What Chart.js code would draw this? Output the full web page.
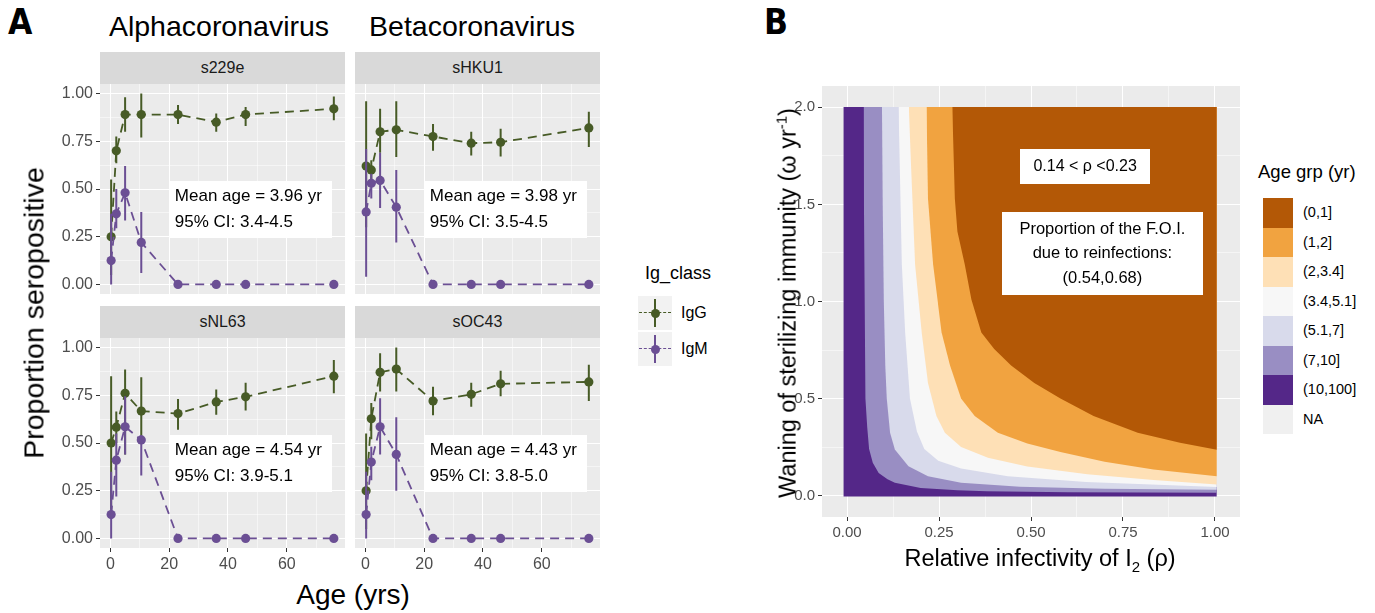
<!DOCTYPE html>
<html>
<head>
<meta charset="utf-8">
<script src="https://cdn.jsdelivr.net/npm/chart.js@4.4.1/dist/chart.umd.min.js"></script>
<style>
  body { margin: 0; width: 1375px; height: 613px; background: #fff; position: relative; overflow: hidden;
         font-family: "Liberation Sans", Arial, sans-serif; color: #000; }
  canvas { position: absolute; }
  .t { position: absolute; white-space: nowrap; }
  .mid { transform: translate(-50%, -50%); }
  .rot { transform: translate(-50%, -50%) rotate(-90deg); }
  .tag { font-family: "Liberation Sans Narrow", "DejaVu Sans Condensed", sans-serif; font-weight: bold; font-size: 35px; }
  .strip { position: absolute; background: #d9d9d9; color: #1a1a1a; font-size: 16px; text-align: center; }
  .key { position: absolute; background: #f2f2f2; }
</style>
</head>
<body>

<div class="t tag" style="left:8px;top:2px">A</div>
<div class="t tag" style="left:764px;top:2px">B</div>

<div class="t mid" style="left:219px;top:26px;font-size:28.5px">Alphacoronavirus</div>
<div class="t mid" style="left:472px;top:26px;font-size:28.5px">Betacoronavirus</div>

<div class="strip" style="left:100px;top:52px;width:245px;height:32px;line-height:32px">s229e</div>
<div class="strip" style="left:355px;top:52px;width:245px;height:32px;line-height:32px">sHKU1</div>
<div class="strip" style="left:100px;top:306px;width:245px;height:32px;line-height:32px">sNL63</div>
<div class="strip" style="left:355px;top:306px;width:245px;height:32px;line-height:32px">sOC43</div>

<canvas id="f1" width="305" height="210" style="left:40px;top:84px"></canvas>
<canvas id="f2" width="245" height="210" style="left:355px;top:84px"></canvas>
<canvas id="f3" width="305" height="240" style="left:40px;top:338px"></canvas>
<canvas id="f4" width="245" height="240" style="left:355px;top:338px"></canvas>

<div class="t rot" style="left:34px;top:313px;font-size:28.5px">Proportion seropositive</div>
<div class="t mid" style="left:353px;top:595px;font-size:28px">Age (yrs)</div>

<div class="t" style="left:645px;top:263px;font-size:18px">Ig_class</div>
<div id="legA"></div>

<canvas id="heat" width="480" height="461" style="left:760px;top:86px"></canvas>
<div class="t rot" style="left:787px;top:303px;font-size:23.5px">Waning of sterilizing immunity (ω yr<sup style="font-size:15px">-1</sup>)</div>
<div class="t mid" style="left:1040px;top:560px;font-size:23.5px">Relative infectivity of I<sub style="font-size:15px">2</sub> (ρ)</div>

<div class="t" style="left:1258px;top:161px;font-size:18.5px">Age grp (yr)</div>
<div id="legB"></div>

<script>
// ---- panel A data: proportion seropositive by age ----
const ages = [0.25, 2, 5, 10.5, 23, 36, 46, 76];
const ageTicks = [0, 10, 20, 30, 40, 50, 60, 70];
const propTicks = [0, 0.125, 0.25, 0.375, 0.5, 0.625, 0.75, 0.875, 1];

const s229eIgG   = [0.25, 0.70, 0.89, 0.89, 0.89, 0.85, 0.89, 0.92];
const s229eIgGLo = [0.05, 0.635, 0.80, 0.77, 0.84, 0.80, 0.83, 0.86];
const s229eIgGHi = [0.55, 0.775, 0.98, 1.00, 0.94, 0.895, 0.93, 0.985];
const s229eIgM   = [0.125, 0.37, 0.48, 0.22, 0, 0, 0, 0];
const s229eIgMLo = [0.0, 0.295, 0.335, 0.06, 0, 0, 0, 0];
const s229eIgMHi = [0.37, 0.50, 0.62, 0.38, 0, 0, 0, 0];

const sHKU1IgG   = [0.62, 0.60, 0.80, 0.81, 0.775, 0.74, 0.745, 0.82];
const sHKU1IgGLo = [0.30, 0.545, 0.69, 0.667, 0.70, 0.675, 0.67, 0.72];
const sHKU1IgGHi = [0.96, 0.65, 0.92, 0.96, 0.84, 0.80, 0.815, 0.905];
const sHKU1IgM   = [0.38, 0.53, 0.545, 0.405, 0, 0, 0, 0];
const sHKU1IgMLo = [0.04, 0.45, 0.40, 0.22, 0, 0, 0, 0];
const sHKU1IgMHi = [0.71, 0.58, 0.69, 0.60, 0, 0, 0, 0];

const sNL63IgG   = [0.50, 0.583, 0.76, 0.667, 0.654, 0.715, 0.742, 0.85];
const sNL63IgGLo = [0.15, 0.50, 0.44, 0.53, 0.57, 0.648, 0.67, 0.76];
const sNL63IgGHi = [0.85, 0.665, 0.885, 0.845, 0.73, 0.78, 0.815, 0.935];
const sNL63IgM   = [0.125, 0.41, 0.585, 0.516, 0, 0, 0, 0];
const sNL63IgMLo = [0.0, 0.22, 0.44, 0.33, 0, 0, 0, 0];
const sNL63IgMHi = [0.35, 0.55, 0.745, 0.54, 0, 0, 0, 0];

const sOC43IgG   = [0.25, 0.627, 0.87, 0.887, 0.72, 0.755, 0.81, 0.82];
const sOC43IgGLo = [0.05, 0.52, 0.77, 0.77, 0.645, 0.69, 0.745, 0.72];
const sOC43IgGHi = [0.55, 0.71, 0.97, 1.00, 0.795, 0.815, 0.878, 0.91];
const sOC43IgM   = [0.125, 0.40, 0.585, 0.44, 0, 0, 0, 0];
const sOC43IgMLo = [0.0, 0.305, 0.44, 0.25, 0, 0, 0, 0];
const sOC43IgMHi = [0.35, 0.48, 0.735, 0.635, 0, 0, 0, 0];

const meanAge = ['Mean age = 3.96 yr', 'Mean age = 3.98 yr', 'Mean age = 4.54 yr', 'Mean age = 4.43 yr'];
const meanCI  = ['95% CI: 3.4-4.5', '95% CI: 3.5-4.5', '95% CI: 3.9-5.1', '95% CI: 3.8-5.0'];

// ---- panel B data: age-group boundaries over (rho, omega) ----
const rhoTicks = [0, 0.125, 0.25, 0.375, 0.5, 0.625, 0.75, 0.875, 1];
const omegaTicks = [0, 0.25, 0.5, 0.75, 1, 1.25, 1.5, 1.75, 2];
const ageGroups = ['(0,1]', '(1,2]', '(2,3.4]', '(3.4,5.1]', '(5.1,7]', '(7,10]', '(10,100]', 'NA'];
const groupColors = ['#b35806', '#f1a340', '#fee0b6', '#f7f7f7', '#d8daeb', '#998ec3', '#542788', '#f0f0f0'];

const gridRho = [-0.01, 1.005];
const gridOmega = [-0.005, 2.002];
// lower-left edge of each band, from the top of the grid down to rho = 1
const b1Rho   = [0.045, 0.046, 0.048, 0.050, 0.055, 0.060, 0.070, 0.086, 0.110, 0.130, 0.200, 0.300, 0.380, 0.600, 1.005];
const b1Omega = [2.002, 1.5,   1.0,   0.5,   0.35,  0.24,  0.17,  0.117, 0.085, 0.066, 0.040, 0.028, 0.022, 0.018, 0.015];
const b2Rho   = [0.095, 0.097, 0.100, 0.104, 0.108, 0.117, 0.130, 0.167, 0.220, 0.310, 0.470, 0.700, 1.005];
const b2Omega = [2.002, 1.5,   1.0,   0.67,  0.5,   0.324, 0.238, 0.152, 0.100, 0.066, 0.046, 0.036, 0.030];
const b3Rho   = [0.140, 0.149, 0.158, 0.171, 0.190, 0.210, 0.248, 0.310, 0.437, 0.650, 1.005];
const b3Omega = [2.002, 1.19,  0.84,  0.5,   0.33,  0.24,  0.18,  0.14,  0.10,  0.07,  0.045];
const b4Rho   = [0.168, 0.174, 0.185, 0.203, 0.220, 0.243, 0.266, 0.310, 0.383, 0.490, 0.653, 0.833, 1.005];
const b4Omega = [2.002, 1.7,   1.19,  0.84,  0.58,  0.41,  0.324, 0.25,  0.195, 0.15,  0.11,  0.08,  0.058];
const b5Rho   = [0.216, 0.220, 0.234, 0.257, 0.280, 0.310, 0.347, 0.410, 0.490, 0.580, 0.700, 0.833, 1.005];
const b5Omega = [2.002, 1.53,  1.19,  0.84,  0.67,  0.5,   0.41,  0.324, 0.268, 0.225, 0.175, 0.135, 0.10];
const b6Rho   = [0.286, 0.293, 0.300, 0.320, 0.338, 0.365, 0.400, 0.446, 0.509, 0.580, 0.670, 0.790, 0.905, 1.005];
const b6Omega = [2.002, 1.53,  1.36,  1.19,  1.01,  0.84,  0.755, 0.67,  0.58,  0.5,   0.41,  0.324, 0.272, 0.237];

const GREEN = '#475b26';
const PURPLE = '#6b4f94';
const FONT = '"Liberation Sans", Arial, sans-serif';
Chart.defaults.font.family = FONT;

// grey panel behind the plotting area
const panelBg = {
  id: 'panelBg',
  beforeDraw(chart) {
    const {ctx, chartArea: c} = chart;
    ctx.save();
    ctx.fillStyle = '#ebebeb';
    ctx.fillRect(c.left, c.top, c.width, c.height);
    ctx.restore();
  }
};

// white label boxes anchored in data units
const labelBox = {
  id: 'labelBox',
  afterDatasetsDraw(chart, args, opts) {
    const {ctx, scales: {x, y}} = chart;
    (opts.boxes || []).forEach(b => {
      const cx = x.getPixelForValue(b.x), cy = y.getPixelForValue(b.y);
      ctx.save();
      ctx.fillStyle = '#fff';
      ctx.fillRect(Math.round(cx - b.w / 2), Math.round(cy - b.h / 2), b.w, b.h);
      ctx.fillStyle = '#000';
      ctx.font = b.size + 'px ' + FONT;
      ctx.textBaseline = 'middle';
      ctx.textAlign = b.align;
      const tx = b.align === 'left' ? cx - b.w / 2 + 6 : cx;
      b.lines.forEach((t, i) => ctx.fillText(t, tx, cy + b.dy[i]));
      ctx.restore();
    });
  }
};

const isStep = (v, step) => Math.abs(v / step - Math.round(v / step)) < 1e-9;

function axis(min, max, ticks, step, digits, show, size, fit) {
  return {
    type: 'linear', min, max,
    afterBuildTicks: s => { s.ticks = ticks.map(v => ({value: v})); },
    // fixed axis size, and no extra room for overhanging labels
    afterFit: s => { fit(s); s.paddingTop = s.paddingBottom = s.paddingLeft = s.paddingRight = 0; },
    border: {display: false},
    grid: {
      color: '#ffffff',
      lineWidth: c => (c.tick && isStep(c.tick.value, step)) ? 1 : 0.5,
      drawTicks: show, tickLength: 4, tickWidth: 1,
      tickColor: c => (c.tick && isStep(c.tick.value, step)) ? '#333333' : 'rgba(0,0,0,0)'
    },
    ticks: {
      display: show, autoSkip: false, maxRotation: 0, padding: 3, color: '#4d4d4d',
      font: {size},
      callback: v => isStep(v, step) ? v.toFixed(digits) : ''
    }
  };
}

function seroChart(id, k, series, showY, showX) {
  const [g, gLo, gHi, m, mLo, mHi] = series;
  const pts = ys => ages.map((a, i) => ({x: a, y: ys[i]}));
  const bars = (lo, hi) => ages.flatMap((a, i) => [{x: a, y: lo[i]}, {x: a, y: hi[i]}, {x: a, y: null}]);
  const dashed = (ys, col, order) => ({data: pts(ys), borderColor: col, borderWidth: 1.8, borderDash: [9, 6], pointRadius: 0, order});
  const ranges = (lo, hi, col, order) => ({data: bars(lo, hi), borderColor: col, borderWidth: 2, pointRadius: 0, spanGaps: false, order});
  const dots = (ys, col, order) => ({data: pts(ys), showLine: false, pointRadius: 4.6, pointBackgroundColor: col, pointBorderColor: col, pointBorderWidth: 0, order});

  new Chart(document.getElementById(id), {
    type: 'line',
    data: {
      datasets: [
        dashed(g, GREEN, 6), ranges(gLo, gHi, GREEN, 5), dots(g, GREEN, 4),
        dashed(m, PURPLE, 3), ranges(mLo, mHi, PURPLE, 2), dots(m, PURPLE, 1)
      ]
    },
    options: {
      responsive: false, animation: false, events: [],
      layout: {padding: 0, autoPadding: false},
      plugins: {
        legend: {display: false}, tooltip: {enabled: false},
        labelBox: {boxes: [{x: 47.6, y: 0.395, w: 163, h: 57, size: 17, align: 'left',
                            lines: [meanAge[k], meanCI[k]], dy: [-13, 13]}]}
      },
      scales: {
        x: axis(-3.54, 79.8, ageTicks, 20, 0, showX, 16, s => { s.height = showX ? 30 : 0; }),
        y: axis(-0.05, 1.05, propTicks, 0.25, 2, showY, 16, s => { s.width = showY ? 60 : 0; })
      }
    },
    plugins: [panelBg, labelBox]
  });
}

seroChart('f1', 0, [s229eIgG, s229eIgGLo, s229eIgGHi, s229eIgM, s229eIgMLo, s229eIgMHi], true, false);
seroChart('f2', 1, [sHKU1IgG, sHKU1IgGLo, sHKU1IgGHi, sHKU1IgM, sHKU1IgMLo, sHKU1IgMHi], false, false);
seroChart('f3', 2, [sNL63IgG, sNL63IgGLo, sNL63IgGHi, sNL63IgM, sNL63IgMLo, sNL63IgMHi], true, true);
seroChart('f4', 3, [sOC43IgG, sOC43IgGLo, sOC43IgGHi, sOC43IgM, sOC43IgMLo, sOC43IgMHi], false, true);

// ---- panel B ----
const band = (rho, omega, col, order) => ({
  data: rho.map((r, i) => ({x: r, y: omega[i]})),
  borderWidth: 0, borderColor: col, backgroundColor: col, pointRadius: 0,
  fill: {value: gridOmega[1]}, order
});

new Chart(document.getElementById('heat'), {
  type: 'line',
  data: {
    datasets: [
      band(gridRho, [gridOmega[0], gridOmega[0]], groupColors[6], 10),
      band(b1Rho, b1Omega, groupColors[5], 9),
      band(b2Rho, b2Omega, groupColors[4], 8),
      band(b3Rho, b3Omega, groupColors[3], 7),
      band(b4Rho, b4Omega, groupColors[2], 6),
      band(b5Rho, b5Omega, groupColors[1], 5),
      band(b6Rho, b6Omega, groupColors[0], 4)
    ]
  },
  options: {
    responsive: false, animation: false, events: [],
    layout: {padding: 0, autoPadding: false},
    plugins: {
      legend: {display: false}, tooltip: {enabled: false},
      labelBox: {boxes: [
        {x: 0.647, y: 1.693, w: 130, h: 35, size: 16, align: 'center', lines: ['0.14 < ρ <0.23'], dy: [0]},
        {x: 0.694, y: 1.245, w: 201, h: 83, size: 16.5, align: 'center',
         lines: ['Proportion of the F.O.I.', 'due to reinfections:', '(0.54,0.68)'], dy: [-24, 0, 25]}
      ]}
    },
    scales: {
      x: axis(-0.068, 1.068, rhoTicks, 0.25, 2, true, 15, s => { s.height = 30; }),
      y: axis(-0.11, 2.11, omegaTicks, 0.5, 1, true, 15, s => { s.width = 62; })
    }
  },
  plugins: [panelBg, labelBox]
});

// ---- legends ----
const legA = document.getElementById('legA');
[['IgG', GREEN, 296], ['IgM', PURPLE, 332]].forEach(([name, col, top]) => {
  legA.insertAdjacentHTML('beforeend',
    `<div class="key" style="left:638px;top:${top}px;width:34px;height:34px">
       <div style="position:absolute;left:1px;top:16px;width:32px;border-top:1.8px dashed ${col}"></div>
       <div style="position:absolute;left:16px;top:3px;width:2px;height:28px;background:${col}"></div>
       <div style="position:absolute;left:12.5px;top:12.5px;width:9px;height:9px;border-radius:50%;background:${col}"></div>
     </div>
     <div class="t" style="left:681px;top:${top + 8}px;font-size:16px">${name}</div>`);
});

const legB = document.getElementById('legB');
ageGroups.forEach((g, i) => {
  const top = 198 + i * 29.5;
  legB.insertAdjacentHTML('beforeend',
    `<div class="key" style="left:1263px;top:${top}px;width:30px;height:29.5px;background:${groupColors[i]}"></div>
     <div class="t" style="left:1303px;top:${top + 6}px;font-size:14.5px">${g}</div>`);
});
</script>
</body>
</html>
